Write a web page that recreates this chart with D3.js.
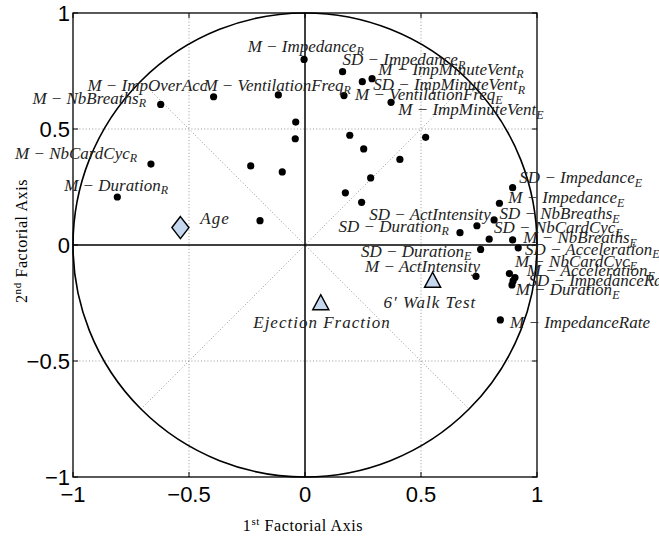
<!DOCTYPE html>
<html>
<head>
<meta charset="utf-8">
<script src="https://cdn.jsdelivr.net/npm/d3@7"></script>
<style>
  html, body { margin: 0; padding: 0; background: #fff; }
  svg { display: block; }
</style>
</head>
<body>
<svg id="chart" width="659" height="537"></svg>
<script>
// ---------------- DATA ----------------
// active variables: coordinates on the 1st / 2nd factorial axes
const varX = [-0.004, -0.622, -0.394, -0.115, -0.040, -0.042, -0.664, -0.234, -0.098, -0.809,
              -0.194, 0.162, 0.247, 0.289, 0.168, 0.371, 0.193, 0.520, 0.253, 0.409,
              0.283, 0.174, 0.244, 0.895, 0.838, 0.815, 0.741, 0.668, 0.794, 0.895,
              0.919, 0.757, 0.737, 0.881, 0.905, 0.897, 0.892, 0.842];
const varY = [0.800, 0.606, 0.639, 0.647, 0.530, 0.458, 0.349, 0.341, 0.315, 0.207,
              0.105, 0.747, 0.704, 0.717, 0.644, 0.615, 0.473, 0.464, 0.414, 0.369,
              0.289, 0.225, 0.184, 0.247, 0.180, 0.108, 0.083, 0.053, 0.025, 0.022,
              -0.012, -0.019, -0.135, -0.123, -0.140, -0.155, -0.172, -0.323];

// variable labels (text placed at data coordinates, like text(x,y,str))
const labelText = ["M − Impedance_R", "SD − Impedance_R", "M − ImpMinuteVent_R", "SD − ImpMinuteVent_R",
                   "M − VentilationFreq_E", "M − ImpMinuteVent_E", "M − VentilationFreq_R", "M − ImpOverAcc",
                   "M − NbBreaths_R", "M − NbCardCyc_R", "M − Duration_R", "SD − ActIntensity",
                   "SD − Duration_R", "SD − NbBreaths_E", "SD − Impedance_E", "M − Impedance_E",
                   "SD − NbCardCyc_E", "M − NbBreaths_E", "SD − Acceleration_E", "SD − Duration_E",
                   "M − ActIntensity", "M − NbCardCyc_E", "M − Acceleration_E", "SD − ImpedanceRate",
                   "M − Duration_E", "M − ImpedanceRate"];
const labelX = [-0.247, 0.162, 0.316, 0.294, 0.216, 0.402, -0.438, -0.938, -1.175, -1.250, -1.038, 0.277,
                0.144, 0.838, 0.924, 0.876, 0.815, 0.941, 0.948, 0.241, 0.259, 0.905, 0.956, 0.963,
                0.908, 0.884];
const labelY = [0.833, 0.774, 0.733, 0.668, 0.625, 0.560, 0.665, 0.665, 0.608, 0.371, 0.234, 0.108,
                0.057, 0.112, 0.266, 0.180, 0.050, 0.007, -0.043, -0.050, -0.115, -0.094, -0.134, -0.177,
                -0.216, -0.359];

// supplementary variables
const suppNames  = ["Age", "Ejection Fraction", "6′ Walk Test"];
const suppX      = [-0.537, 0.068, 0.550];
const suppY      = [0.075, -0.251, -0.154];
const suppShape  = ["diamond", "triangle", "triangle"];
const suppLabelX = [-0.451, -0.223, 0.338];
const suppLabelY = [0.091, -0.359, -0.273];

const tickValues = [-1, -0.5, 0, 0.5, 1];
const tickLabels = ["−1", "−0.5", "0", "0.5", "1"];
const gridValues = [-0.5, 0.5];

// ---------------- CHART ----------------
const svg = d3.select("#chart");
const L = 73, R = 537, T = 13, B = 477;
const x = d3.scaleLinear().domain([-1, 1]).range([L, R]);
const y = d3.scaleLinear().domain([-1, 1]).range([B, T]);

const g = svg.append("g");

// dotted grid
const gridStyle = s => s.attr("stroke", "#8c8c8c").attr("stroke-width", 0.9)
  .attr("stroke-dasharray", "1,2.2").attr("fill", "none");
gridValues.forEach(v => {
  g.append("line").attr("x1", x(v)).attr("x2", x(v)).attr("y1", y(-1)).attr("y2", y(1)).call(gridStyle);
  g.append("line").attr("x1", x(-1)).attr("x2", x(1)).attr("y1", y(v)).attr("y2", y(v)).call(gridStyle);
});
const d = Math.SQRT1_2;
g.append("line").attr("x1", x(-d)).attr("y1", y(-d)).attr("x2", x(d)).attr("y2", y(d)).call(gridStyle);
g.append("line").attr("x1", x(-d)).attr("y1", y(d)).attr("x2", x(d)).attr("y2", y(-d)).call(gridStyle);

// axes through origin
g.append("line").attr("x1", x(0)).attr("x2", x(0)).attr("y1", y(-1)).attr("y2", y(1))
  .attr("stroke", "#000").attr("stroke-width", 1.5);
g.append("line").attr("x1", x(-1)).attr("x2", x(1)).attr("y1", y(0)).attr("y2", y(0))
  .attr("stroke", "#000").attr("stroke-width", 1.5);

// correlation circle
g.append("ellipse").attr("cx", x(0)).attr("cy", y(0))
  .attr("rx", x(1) - x(0)).attr("ry", y(0) - y(1))
  .attr("fill", "none").attr("stroke", "#000").attr("stroke-width", 1.6);

// box + inward ticks
g.append("rect").attr("x", L).attr("y", T).attr("width", R - L).attr("height", B - T)
  .attr("fill", "none").attr("stroke", "#000").attr("stroke-width", 1.3);
const tk = 5;
tickValues.forEach(v => {
  [[x(v), B, x(v), B - tk], [x(v), T, x(v), T + tk], [L, y(v), L + tk, y(v)], [R, y(v), R - tk, y(v)]]
    .forEach(c => g.append("line").attr("x1", c[0]).attr("y1", c[1]).attr("x2", c[2]).attr("y2", c[3])
      .attr("stroke", "#000").attr("stroke-width", 1));
});

// tick labels
const tickFont = "'Liberation Sans', Arial, sans-serif";
tickValues.forEach((v, i) => {
  g.append("text").attr("x", x(v)).attr("y", B + 25).attr("text-anchor", "middle")
    .attr("font-family", tickFont).attr("font-size", 22).text(tickLabels[i]);
  g.append("text").attr("x", L - 3).attr("y", y(v) + 8).attr("text-anchor", "end")
    .attr("font-family", tickFont).attr("font-size", 22).text(tickLabels[i]);
});

// axis titles
const serif = "'Liberation Serif', 'Times New Roman', serif";
const xt = g.append("text").attr("x", 303).attr("y", 531).attr("text-anchor", "middle")
  .attr("font-family", serif).attr("font-size", 16).attr("letter-spacing", 0.6);
xt.append("tspan").text("1");
xt.append("tspan").attr("font-size", 11).attr("dy", -6).text("st");
xt.append("tspan").attr("dy", 6).text(" Factorial Axis");

const yt = g.append("text").attr("transform", `translate(27,${y(0) - 4}) rotate(-90)`)
  .attr("text-anchor", "middle").attr("font-family", serif).attr("font-size", 16).attr("letter-spacing", 0.6);
yt.append("tspan").text("2");
yt.append("tspan").attr("font-size", 11).attr("dy", -6).text("nd");
yt.append("tspan").attr("dy", 6).text(" Factorial Axis");

// variable dots
g.selectAll("circle.var").data(varX.map((v, i) => [v, varY[i]])).enter()
  .append("circle").attr("class", "var")
  .attr("cx", p => x(p[0])).attr("cy", p => y(p[1])).attr("r", 3.6).attr("fill", "#000");

// variable labels
const labFont = 17;
labelText.forEach((t, i) => {
  const parts = t.split("_");
  const tx = g.append("text").attr("x", x(labelX[i])).attr("y", y(labelY[i]))
    .attr("font-family", serif).attr("font-style", "italic").attr("font-size", labFont)
    .attr("fill", "#222");
  tx.append("tspan").text(parts[0]);
  if (parts[1]) tx.append("tspan").attr("font-size", 12).attr("dy", 3.5).text(parts[1]);
});

// supplementary variables
const suppFill = "#c5d8f0";
suppNames.forEach((n, i) => {
  const cx = x(suppX[i]), cy = y(suppY[i]);
  const pts = suppShape[i] === "diamond"
    ? [[cx, cy - 11], [cx + 8.5, cy], [cx, cy + 11], [cx - 8.5, cy]]
    : [[cx, cy - 8.5], [cx + 8, cy + 6.5], [cx - 8, cy + 6.5]];
  g.append("polygon").attr("points", pts.map(p => p.join(",")).join(" "))
    .attr("fill", suppFill).attr("stroke", "#000").attr("stroke-width", 1.5);
  g.append("text").attr("x", x(suppLabelX[i])).attr("y", y(suppLabelY[i]))
    .attr("font-family", serif).attr("font-style", "italic").attr("font-size", labFont)
    .attr("letter-spacing", 1.0).attr("fill", "#222").text(n);
});
</script>
</body>
</html>
